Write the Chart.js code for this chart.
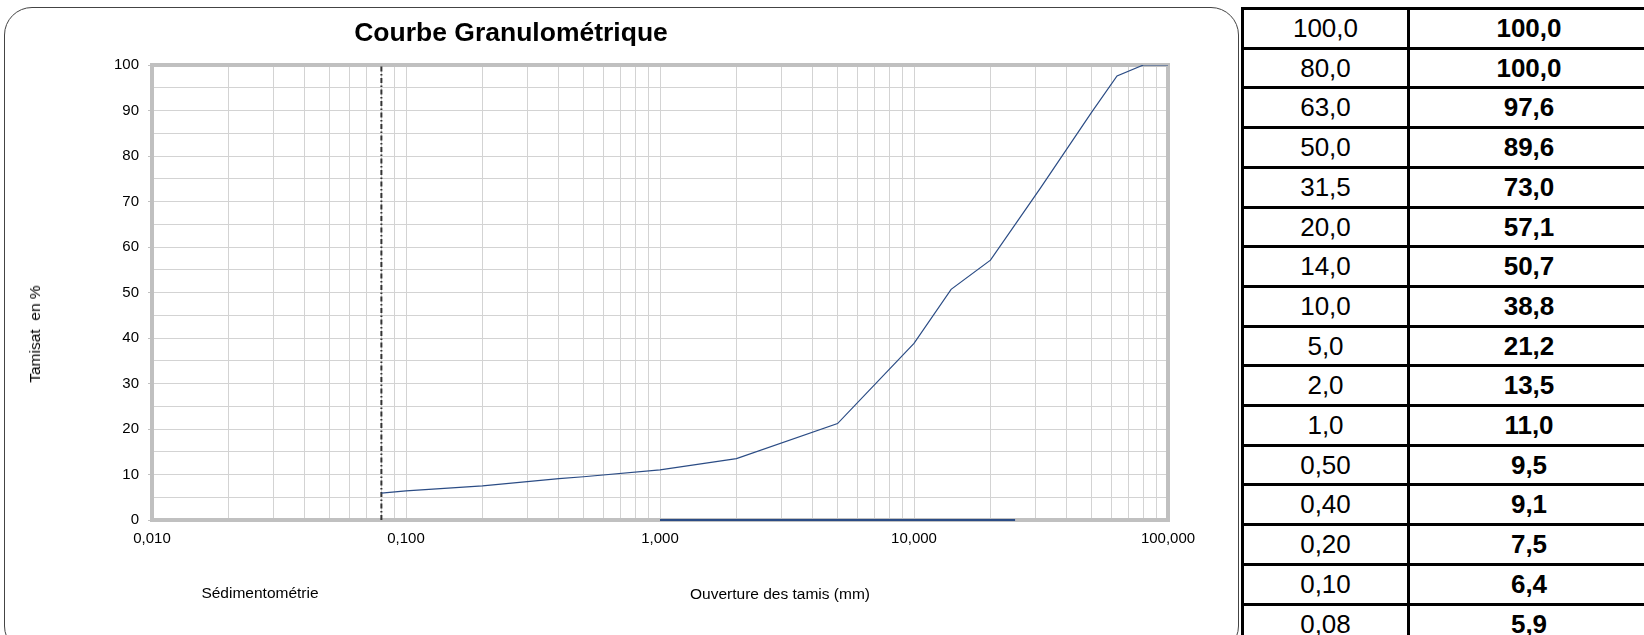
<!DOCTYPE html>
<html>
<head>
<meta charset="utf-8">
<script src="https://cdn.jsdelivr.net/npm/chart.js@4"></script>
<style>
  body { margin: 0; width: 1644px; height: 635px; overflow: hidden; background: #fff;
         font-family: "Liberation Sans", Arial, sans-serif; color: #000; }
  .abs { position: absolute; white-space: nowrap; }
  #frame { position: absolute; left: 4px; top: 7px; width: 1233px; height: 645px;
           border: 1.5px solid #444; border-radius: 28px; }
  #wrap { position: absolute; left: 0; top: 0; width: 1240px; height: 635px; }
  #title { left: 511px; top: 17px; font-size: 26.5px; font-weight: bold; line-height: 30px;
           transform: translateX(-50%); }
  .lbl { font-size: 15.5px; line-height: 18px; transform: translate(-50%, -50%); }
  #ylab { left: 35px; top: 334px; transform: translate(-50%, -50%) rotate(-90deg); }
  #table { position: absolute; left: 1241px; top: 7px; width: 420px; height: 660px;
           border-left: 3px solid #000; }
  .row { position: absolute; left: 0; width: 420px; border-top: 3px solid #000;
         box-sizing: border-box; font-size: 26px; }
  .c1, .c2 { position: absolute; top: 0; bottom: 0; text-align: center; }
  .c1 { left: 0; width: 163px; border-right: 3px solid #000; }
  .c2 { left: 166px; width: 238px; font-weight: bold; }
</style>
</head>
<body>
<div id="frame"></div>
<div id="wrap"><canvas id="granulo"></canvas></div>
<div id="title" class="abs">Courbe Granulométrique</div>
<div id="ylab" class="abs lbl">Tamisat&nbsp; en %</div>
<div class="abs lbl" style="left:260px; top:593px;">Sédimentométrie</div>
<div class="abs lbl" style="left:780px; top:594px;">Ouverture des tamis (mm)</div>
<div id="table"></div>
<script>
// ouverture des tamis (mm) et tamisat (%)
const sieveSizes = [100, 80, 63, 50, 31.5, 20, 14, 10, 5, 2, 1, 0.5, 0.4, 0.2, 0.1, 0.08];
const passing = [100.0, 100.0, 97.6, 89.6, 73.0, 57.1, 50.7, 38.8, 21.2, 13.5, 11.0, 9.5, 9.1, 7.5, 6.4, 5.9];

// trait bas (sedimentometrie) et limite 0,08 mm
const baseLineX = [1, 25];
const baseLineY = [0, 0];
const limitX = [0.08, 0.08];
const limitY = [0, 100];

const xMajorTicks = [0.01, 0.1, 1, 10, 100];
const xTickLabels = ['0,010', '0,100', '1,000', '10,000', '100,000'];
const yTickLabels = [0, 10, 20, 30, 40, 50, 60, 70, 80, 90, 100];

function fmt(v, d) {
    return v.toFixed(d).replace('.', ',');
}

// tableau de droite
const table = document.getElementById('table');
const rowH = 39.7;
sieveSizes.forEach((s, i) => {
    const row = document.createElement('div');
    row.className = 'row';
    row.style.top = (i * rowH) + 'px';
    row.style.height = (rowH + 3) + 'px';
    row.style.lineHeight = (rowH - 2) + 'px';
    const c1 = document.createElement('div');
    c1.className = 'c1';
    c1.textContent = fmt(s, s < 1 ? 2 : 1);
    const c2 = document.createElement('div');
    c2.className = 'c2';
    c2.textContent = fmt(passing[i], 1);
    row.appendChild(c1);
    row.appendChild(c2);
    table.appendChild(row);
});

const pts = (xs, ys) => xs.map((x, i) => ({ x: x, y: ys[i] }));

// cadre gris epais autour de la zone de trace
const plotBorder = {
    id: 'plotBorder',
    beforeDatasetsDraw(chart) {
        const a = chart.chartArea;
        const ctx = chart.ctx;
        ctx.save();
        ctx.strokeStyle = '#c0c0c0';
        ctx.lineWidth = 4;
        ctx.strokeRect(a.left, a.top, a.right - a.left, a.bottom - a.top);
        ctx.restore();
    }
};

const blue = '#2b4c85';

new Chart(document.getElementById('granulo'), {
    type: 'line',
    data: {
        datasets: [
            { data: pts(sieveSizes, passing), borderColor: blue, borderWidth: 1.2, pointRadius: 0, tension: 0 },
            { data: pts(baseLineX, baseLineY), borderColor: blue, borderWidth: 2, pointRadius: 0, clip: 4 },
            { data: pts(limitX, limitY), borderColor: '#333', borderWidth: 2, pointRadius: 0,
              borderDash: [5, 2.5, 1.5, 2.5] }
        ]
    },
    plugins: [plotBorder],
    options: {
        responsive: true,
        maintainAspectRatio: false,
        animation: false,
        layout: { padding: { left: 92, right: 72, top: 65, bottom: 75 } },
        plugins: { legend: { display: false }, tooltip: { enabled: false }, title: { display: false } },
        scales: {
            x: {
                type: 'logarithmic',
                min: 0.01,
                max: 100,
                afterFit: s => { s.height = 40; },
                afterBuildTicks: s => {
                    const ticks = [];
                    xMajorTicks.forEach((d, i) => {
                        ticks.push({ value: d });
                        if (i < xMajorTicks.length - 1) {
                            for (let m = 2; m <= 9; m++) {
                                ticks.push({ value: Number((m * d).toPrecision(6)) });
                            }
                        }
                    });
                    s.ticks = ticks;
                },
                border: { display: false },
                grid: { color: '#d3d3d3', lineWidth: 1, drawTicks: false },
                ticks: {
                    autoSkip: false,
                    maxRotation: 0,
                    padding: 10,
                    color: '#000',
                    font: { family: '"Liberation Sans", Arial', size: 15 },
                    callback: v => {
                        const k = xMajorTicks.indexOf(v);
                        return k >= 0 ? xTickLabels[k] : '';
                    }
                }
            },
            y: {
                min: 0,
                max: 100,
                afterFit: s => { s.width = 60; },
                border: { display: false },
                grid: {
                    color: '#d3d3d3',
                    lineWidth: 1,
                    tickLength: 4,
                    tickColor: c => yTickLabels.includes(c.tick.value) ? '#c0c0c0' : 'rgba(0,0,0,0)'
                },
                ticks: {
                    stepSize: 5,
                    padding: 9,
                    color: '#000',
                    font: { family: '"Liberation Sans", Arial', size: 15 },
                    callback: v => yTickLabels.includes(v) ? String(v) : ''
                }
            }
        }
    }
});
</script>
</body>
</html>
